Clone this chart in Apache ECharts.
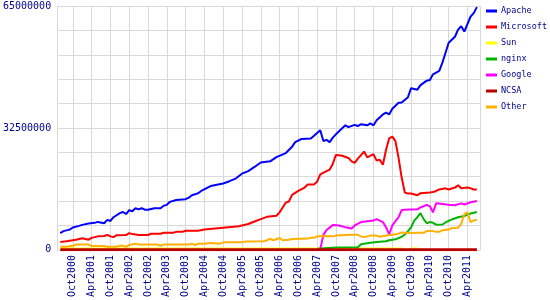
<!DOCTYPE html>
<html>
<head>
<meta charset="utf-8">
<script src="https://cdn.jsdelivr.net/npm/echarts@6/dist/echarts.min.js"></script>
<style>
html,body{margin:0;padding:0;background:#fff;}
#chart{width:550px;height:300px;}
</style>
</head>
<body>
<div id="chart"></div>
<script>
// Monthly categories, May2000 .. Aug2011 (index 0 = May2000)
const monthNames = ['Jan','Feb','Mar','Apr','May','Jun','Jul','Aug','Sep','Oct','Nov','Dec'];
const categories = [];
for (let y = 2000; y <= 2011; y++) {
  for (let m = 0; m < 12; m++) {
    if (y === 2000 && m < 4) continue;
    if (y === 2011 && m > 7) continue;
    categories.push(monthNames[m] + y);
  }
}
const xTickLabels = ['Oct2000','Apr2001','Oct2001','Apr2002','Oct2002','Apr2003','Oct2003','Apr2004',
  'Oct2004','Apr2005','Oct2005','Apr2006','Oct2006','Apr2007','Oct2007','Apr2008','Oct2008',
  'Apr2009','Oct2009','Apr2010','Oct2010','Apr2011','Jul2011'];
const xGridLines = ['May2000','Oct2000','Apr2001','Oct2001','Apr2002','Oct2002','Apr2003','Oct2003','Apr2004',
  'Oct2004','Apr2005','Oct2005','Apr2006','Oct2006','Apr2007','Oct2007','Apr2008','Oct2008',
  'Apr2009','Oct2009','Apr2010','Oct2010','Apr2011','Aug2011'];
const yTickLabels = [0, 32500000, 65000000];

// [month index, sites in millions]
const apache = [[1,4.47],[2,5.0],[4,5.4],[5,5.97],[7,6.4],[8,6.66],[10,7.0],[12,7.2],[13,7.45],[15,7.1],[16,8.0],[17,7.7],[18,8.7],[20,9.8],[21,10.1],[22,9.55],[23,10.6],[24,10.3],[25,11.1],[26,10.8],[27,11.1],[28,10.7],[29,10.7],[31,11.1],[33,11.1],[34,11.75],[35,12.0],[36,12.8],[38,13.3],[41,13.5],[42,13.9],[43,14.55],[44,14.8],[45,15.1],[46,15.7],[49,17.0],[53,17.7],[55,18.3],[57,19.0],[59,20.3],[61,21.0],[63,22.1],[65,23.3],[68,23.6],[70,24.7],[73,25.8],[75,27.5],[76,28.7],[78,29.55],[81,29.7],[82,30.4],[84,31.9],[85,29.0],[86,29.3],[87,28.7],[88,29.9],[89,30.8],[91,32.4],[92,33.2],[93,32.7],[95,33.3],[96,33.0],[97,33.5],[99,33.2],[100,33.7],[101,33.2],[102,34.55],[104,36.1],[105,36.6],[106,36.1],[107,37.6],[109,39.2],[110,39.3],[112,40.7],[113,43.1],[115,42.7],[116,43.9],[118,45.1],[119,45.3],[120,46.8],[122,47.7],[123,49.9],[124,52.55],[125,55.2],[127,56.8],[128,58.7],[129,59.6],[130,58.2],[132,62.2],[133,63.1],[134,64.7]];
const microsoft = [[1,2.1],[3,2.3],[6,2.7],[8,3.07],[10,2.7],[11,3.2],[13,3.6],[15,3.7],[16,4.0],[17,3.6],[18,3.4],[19,3.9],[22,3.95],[23,4.47],[24,4.2],[26,3.95],[29,3.95],[30,4.3],[33,4.3],[34,4.55],[37,4.55],[38,4.8],[40,4.8],[41,5.1],[45,5.1],[47,5.4],[53,5.9],[58,6.3],[61,6.9],[63,7.55],[65,8.2],[67,8.8],[70,9.1],[71,10.0],[72,11.3],[73,12.6],[74,12.9],[75,14.65],[77,15.7],[79,16.6],[80,17.4],[82,17.4],[83,18.2],[84,20.1],[86,21.0],[87,21.4],[88,22.9],[89,25.3],[90,25.2],[91,25.1],[93,24.5],[94,23.6],[95,23.2],[96,24.3],[98,26.2],[99,24.65],[101,25.5],[102,23.8],[103,24.0],[104,22.7],[105,26.7],[106,29.7],[107,30.2],[108,29.0],[109,24.5],[110,19.2],[111,15.3],[112,15.0],[113,15.0],[115,14.55],[116,15.1],[119,15.3],[120,15.4],[121,15.7],[122,16.1],[124,16.4],[125,16.1],[127,16.6],[128,17.2],[129,16.4],[131,16.6],[132,16.4],[133,16.1],[134,16.1]];
const sun = [[1,0.45],[20,0.45],[40,0.45],[60,0.45],[80,0.45],[100,0.45],[110,0.45],[111,0],[112,0],[113,0.45],[115,0.45],[116,0],[134,0]];
const nginx = [[83,0.3],[89,0.6],[96,0.7],[97,1.5],[98,1.65],[100,1.9],[102,2.1],[105,2.3],[106,2.55],[108,2.8],[110,3.5],[111,4.1],[112,5.0],[113,6.0],[114,7.8],[115,8.7],[116,9.8],[117,8.2],[118,7.1],[119,7.4],[120,7.2],[121,6.7],[123,6.75],[124,7.3],[126,8.1],[128,8.7],[130,9.0],[131,9.4],[132,9.7],[134,10.1]];
const google = [[84,0.2],[85,4.0],[86,5.3],[88,6.6],[90,6.5],[92,6.05],[94,5.7],[95,6.5],[97,7.4],[99,7.6],[101,7.8],[102,8.2],[104,7.4],[105,6.05],[106,4.1],[107,6.5],[109,8.7],[110,10.6],[111,10.7],[115,10.8],[116,11.3],[118,12.0],[119,11.6],[120,10.0],[121,12.4],[123,12.2],[125,12.0],[127,11.9],[129,12.4],[130,12.1],[132,12.7],[134,13.0]];
const ncsa = [[1,0.03],[40,0.03],[80,0.03],[120,0.03],[134,0.03]];
const other = [[1,0.8],[3,0.8],[5,1.1],[6,1.4],[10,1.4],[11,1.05],[15,1.05],[16,0.8],[19,0.8],[20,1.1],[21,1.1],[22,0.8],[23,1.3],[25,1.65],[26,1.4],[32,1.4],[33,1.1],[34,1.4],[42,1.4],[43,1.65],[44,1.3],[45,1.65],[47,1.65],[49,1.85],[52,1.65],[53,2.0],[59,2.0],[60,2.2],[66,2.3],[67,2.55],[68,3.0],[69,2.55],[71,3.15],[72,2.55],[74,2.7],[75,2.9],[80,3.0],[81,3.2],[82,3.2],[83,3.6],[85,3.7],[88,3.6],[89,3.8],[94,4.0],[96,4.0],[97,3.6],[98,3.4],[100,3.8],[102,3.8],[103,3.5],[105,3.8],[107,4.0],[109,4.3],[110,4.65],[112,4.5],[115,4.55],[117,4.55],[118,5.0],[120,5.0],[121,4.8],[122,4.8],[123,5.2],[125,5.4],[126,5.8],[128,5.9],[129,6.9],[130,9.55],[131,10.0],[132,7.4],[133,7.8],[134,8.0]];

const seriesDefs = [
  {name:'Apache', data:apache, color:'#0000ff', width:2},
  {name:'Microsoft', data:microsoft, color:'#ff0000', width:2},
  {name:'Sun', data:sun, color:'#ffff00', width:1.5},
  {name:'nginx', data:nginx, color:'#00b400', width:2},
  {name:'Google', data:google, color:'#ff00ff', width:2},
  {name:'Other', data:other, color:'#ffb000', width:2},
  {name:'NCSA', data:ncsa, color:'#bb0000', width:3}
];

const font = 'DejaVu Sans Mono';
const textColor = '#00008b';
const gridColor = '#d9d9d9';

const chart = echarts.init(document.getElementById('chart'), null, {renderer:'canvas'});
chart.setOption({
  animation: false,
  backgroundColor: '#ffffff',
  grid: {left: 53, right: 70, top: 6, bottom: 47, containLabel: false},
  legend: {
    orient: 'vertical',
    left: 486, top: 5, padding: 0,
    icon: 'rect', itemWidth: 11, itemHeight: 3, itemGap: 4,
    data: ['Apache','Microsoft','Sun','nginx','Google','NCSA','Other'],
    textStyle: {fontFamily: font, fontSize: 8.5, color: textColor, lineHeight: 12, padding: [0,0,0,-1]}
  },
  xAxis: {
    type: 'category',
    data: categories,
    boundaryGap: false,
    axisLine: {show: true, lineStyle: {color: gridColor}},
    axisTick: {show: false},
    axisLabel: {
      rotate: 90, margin: 5,
      interval: (i, v) => xTickLabels.includes(v),
      fontFamily: font, fontSize: 10, color: textColor
    },
    splitLine: {show: true, interval: (i, v) => xGridLines.includes(v), lineStyle: {color: gridColor, width: 1}}
  },
  yAxis: {
    type: 'value',
    min: 0, max: 65, interval: 6.5,
    axisLine: {show: true, lineStyle: {color: gridColor}},
    axisTick: {show: false},
    axisLabel: {
      margin: 6,
      fontFamily: font, fontSize: 10, color: textColor,
      formatter: v => {
        const n = Math.round(v * 1000000);
        return yTickLabels.includes(n) ? String(n) : '';
      }
    },
    splitLine: {show: true, lineStyle: {color: gridColor, width: 1}}
  },
  series: seriesDefs.map(s => ({
    name: s.name,
    type: 'line',
    data: s.data,
    showSymbol: false,
    symbol: 'none',
    color: s.color,
    lineStyle: {color: s.color, width: s.width},
    itemStyle: {color: s.color}
  }))
});
</script>
</body>
</html>
